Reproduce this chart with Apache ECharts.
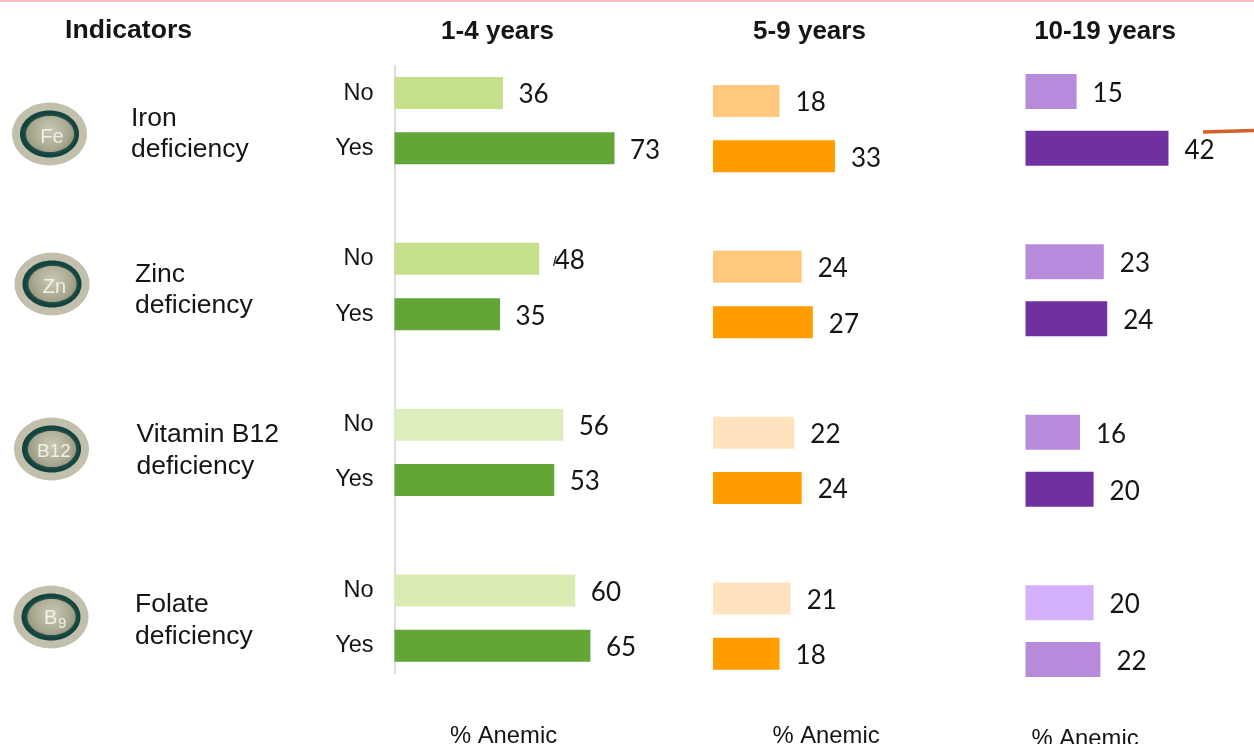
<!DOCTYPE html>
<html>
<head>
<meta charset="utf-8">
<style>html,body{margin:0;padding:0;background:#fff}#chart{width:1254px;height:744px}</style>
<script src="https://cdn.jsdelivr.net/npm/echarts@6/dist/echarts.min.js"></script>
</head>
<body>
<div id="chart"></div>
<script>
// Anaemia prevalence by micronutrient status, split into three age groups.
const slotLabels = ['No', 'Yes', '', 'No', 'Yes', '', 'No', 'Yes', '', 'No', 'Yes'];

const ages1to4 = [36, 73, null, 48, 35, null, 56, 53, null, 60, 65];
const ages5to9 = [18, 33, null, 24, 27, null, 22, 24, null, 21, 18];
const ages10to19 = [15, 42, null, 23, 24, null, 16, 20, null, 20, 22];

const colors1to4 = ['#C5E08B', '#63A537', null, '#C5E08B', '#63A537', null, '#DEEDBC', '#63A537', null, '#D9EBB3', '#63A537'];
const colors5to9 = ['#FFC87C', '#FF9C00', null, '#FFC87C', '#FF9C00', null, '#FFE3BF', '#FF9C00', null, '#FFE3BF', '#FF9C00'];
const colors10to19 = ['#B88ADB', '#7030A0', null, '#B88ADB', '#7030A0', null, '#B88ADB', '#7030A0', null, '#D5B0FB', '#B88ADB'];

const ageHeaders = ['1-4 years', '5-9 years', '10-19 years'];
const indicators = [
  ['Iron', 'deficiency'],
  ['Zinc', 'deficiency'],
  ['Vitamin B12', 'deficiency'],
  ['Folate', 'deficiency']
];

const SANS = '"Liberation Sans", Arial, sans-serif';
const INK = '#151515';

// One panel per age group; the axis maximum sets the pixels-per-percent scale.
const panels = [
  { values: ages1to4, colors: colors1to4, left: 394.5, width: 220, max: 73, top: 65.4, height: 608, bar: 32, gap: 15.5, showAxis: true },
  { values: ages5to9, colors: colors5to9, left: 713, width: 122, max: 33, top: 73.4, height: 608, bar: 32, gap: 16, showAxis: false },
  { values: ages10to19, colors: colors10to19, left: 1025.5, width: 143, max: 42, top: 63, height: 625, bar: 35, gap: 16, showAxis: false }
];

const text = (x, y, str, size, weight, align) => ({
  type: 'text', x, y, silent: true,
  style: {
    text: str, fill: INK, align: align || 'left', verticalAlign: 'middle',
    font: (weight || 'normal') + ' ' + size + 'px ' + SANS
  }
});

// Round element badge: stone rim, dark green ring, soft-edged glossy centre, symbol.
const badge = (cx, cy, symbol) => ({
  type: 'group', x: cx, y: cy, silent: true,
  children: [
    { type: 'ellipse', shape: { cx: 0, cy: 0, rx: 37.5, ry: 31.5 }, style: { fill: '#C2BFAD' } },
    { type: 'ellipse', shape: { cx: 0, cy: 0, rx: 29.5, ry: 23.5 }, style: { fill: '#124440' } },
    { type: 'ellipse', shape: { cx: 0.5, cy: 0, rx: 24, ry: 18 }, style: {
      fill: { type: 'radial', x: 0.5, y: 0.4, r: 0.95, colorStops: [
        { offset: 0, color: '#CBC9B4' }, { offset: 0.55, color: '#A8A78F' }, { offset: 1, color: '#7C8069' }
      ] },
      shadowBlur: 3, shadowColor: '#5F6C5E'
    } },
    symbol
  ]
});

const badgeText = (str, size) => ({
  type: 'text', x: 2.5, y: 3,
  style: { text: str, fill: '#F0F0E8', align: 'center', verticalAlign: 'middle', font: size + 'px ' + SANS }
});

const graphics = [
  { type: 'rect', silent: true, shape: { x: 0, y: 0, width: 1254, height: 2 }, style: { fill: '#FFBDBD' } },

  text(65, 31, 'Indicators', 26.6, 'bold'),
  text(497.5, 32, ageHeaders[0], 26, 'bold', 'center'),
  text(809.5, 32, ageHeaders[1], 26, 'bold', 'center'),
  text(1105, 31.5, ageHeaders[2], 26, 'bold', 'center'),

  text(131, 119, indicators[0][0], 26.5), text(131, 150, indicators[0][1], 26.5),
  text(135, 275, indicators[1][0], 26.5), text(135, 306, indicators[1][1], 26.5),
  text(136.5, 435, indicators[2][0], 26.5), text(136.5, 467, indicators[2][1], 26.5),
  text(135, 605, indicators[3][0], 26.5), text(135, 637, indicators[3][1], 26.5),

  text(503.5, 736, '% Anemic', 23.8, 'normal', 'center'),
  text(826, 736, '% Anemic', 23.8, 'normal', 'center'),
  text(1085, 739, '% Anemic', 23.8, 'normal', 'center'),

  badge(49.5, 134, badgeText('Fe', 20)),
  badge(52, 284, badgeText('Zn', 20)),
  badge(51.5, 449, badgeText('B12', 19)),
  badge(51, 617, {
    type: 'group', children: [
      { type: 'text', x: -7, y: 1, style: { text: 'B', fill: '#F0F0E8', align: 'left', verticalAlign: 'middle', font: '20px ' + SANS } },
      { type: 'text', x: 7, y: 7, style: { text: '9', fill: '#F0F0E8', align: 'left', verticalAlign: 'middle', font: '15px ' + SANS } }
    ]
  }),

  // Stray annotation strokes carried by the slide.
  { type: 'line', silent: true, shape: { x1: 1203, y1: 132, x2: 1254, y2: 130.5 }, style: { stroke: '#D06028', lineWidth: 3.5 } },
  { type: 'line', silent: true, shape: { x1: 556, y1: 256, x2: 553.5, y2: 266 }, style: { stroke: '#222', lineWidth: 1.2 } }
];

const option = {
  animation: false,
  backgroundColor: '#fff',
  graphic: graphics,
  grid: panels.map(p => ({ left: p.left, top: p.top, width: p.width, height: p.height, containLabel: false })),
  xAxis: panels.map((p, i) => ({
    type: 'value', gridIndex: i, min: 0, max: p.max, show: false
  })),
  yAxis: panels.map((p, i) => ({
    type: 'category', gridIndex: i, inverse: true, data: slotLabels,
    show: p.showAxis,
    axisLine: { show: p.showAxis, lineStyle: { color: '#D2D2D2', width: 1.5 } },
    axisTick: { show: false },
    axisLabel: {
      show: p.showAxis, margin: 21, interval: 0, padding: [4, 0, 0, 0],
      color: INK, fontFamily: 'Liberation Sans', fontSize: 23.5
    }
  })),
  series: panels.map((p, i) => ({
    type: 'bar', xAxisIndex: i, yAxisIndex: i,
    barWidth: p.bar, clip: false,
    data: p.values.map((v, k) => v === null ? null : ({ value: v, itemStyle: { color: p.colors[k] } })),
    label: {
      show: true, position: 'right', distance: p.gap, offset: [0, 2],
      color: INK, fontFamily: 'Lato', fontSize: 26
    }
  }))
};

echarts.init(document.getElementById('chart'), null, { renderer: 'canvas' }).setOption(option);
</script>
</body>
</html>
